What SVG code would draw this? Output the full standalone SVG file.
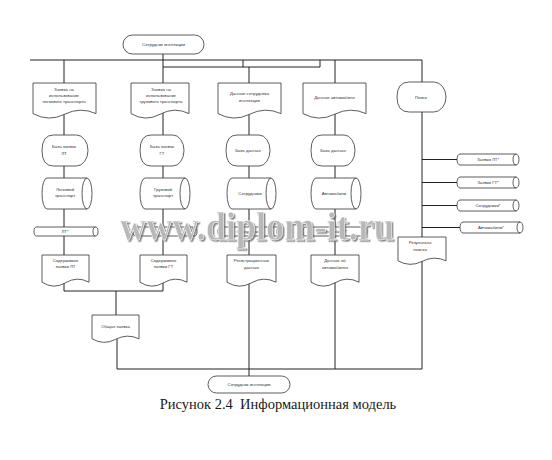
<svg xmlns="http://www.w3.org/2000/svg" width="552" height="460" viewBox="0 0 552 460">
<style>
.ln{fill:none;stroke:#222;stroke-width:1}
.sh{fill:#fff;stroke:#333;stroke-width:0.8}
.in{fill:none;stroke:#333;stroke-width:0.8}
.t{font-family:"Liberation Sans",Arial,sans-serif;font-size:4.3px;fill:#333;text-anchor:middle}
.cap{font-family:"Liberation Serif","Times New Roman",serif;font-size:14.5px;fill:#1a1a1a;text-anchor:middle;white-space:pre}
.wm{font-family:"Liberation Serif","Times New Roman",serif;font-weight:bold;font-size:40px}
</style>
<defs>
<filter id="shadow" x="-5%" y="-20%" width="110%" height="140%">
<feDropShadow dx="1.5" dy="1.5" stdDeviation="0.4" flood-color="#666" flood-opacity="0.8"/>
</filter>
</defs>
<rect width="552" height="460" fill="#fff"/>
<g id="connectors">
<path class="ln" d="M30,60 H422 M163,67 H320 M243,60 V67 M320,60 V67"/>
<path class="ln" d="M64,60 V291 M163,54 V291 M249,67 V376 M335,60 V369 M422,60 V369"/>
<path class="ln" d="M64,291 H163 M116,291 V315 M117,339 V369 H422"/>
<path class="ln" d="M422,159.5 H457 M422,182.5 H457 M422,205.5 H457 M422,227.5 H460"/>
</g>
<g id="top-term"><rect class="sh" x="123" y="35" width="81" height="19" rx="9.5"/><text class="t" x="163.5" y="46">Сотрудник инспекции</text></g>
<g id="doc1"><path class="sh" d="M33,83 H96 V113.6 Q80.25,106.4 64.5,114.3 T33,113.6 Z"/><text class="t" x="64" y="91">Заявка на</text><text class="t" x="64" y="97">использование</text><text class="t" x="64" y="103">легкового транспорта</text></g>
<g id="doc2"><path class="sh" d="M131,83 H189 V113.6 Q174.5,106.4 160,114.3 T131,113.6 Z"/><text class="t" x="161" y="91">Заявка на</text><text class="t" x="161" y="97">использование</text><text class="t" x="161" y="103">грузового транспорта</text></g>
<g id="doc3"><path class="sh" d="M218,83 H281 V113.6 Q265.25,106.4 249.5,114.3 T218,113.6 Z"/><text class="t" x="249.5" y="95">Данные сотрудника</text><text class="t" x="249.5" y="102">инспекции</text></g>
<g id="doc4"><path class="sh" d="M303,83 H366 V113.6 Q350.25,106.4 334.5,114.3 T303,113.6 Z"/><text class="t" x="334.5" y="99">Данные автомобиля</text></g>
<g id="search"><path class="sh" d="M409.25,82 H433.75 A12.25,15 0 0 1 433.75,112 H409.25 Q397,112 397,97 Q397,82 409.25,82 Z"/><text class="t" x="421" y="99">Поиск</text></g>
<g id="disp1"><path class="sh" d="M53.5,135 H76.5 A11.5,15.5 0 0 1 76.5,166 H53.5 Q42,166 42,150.5 Q42,135 53.5,135 Z"/><text class="t" x="64" y="148">База заявок</text><text class="t" x="64" y="155">ЛТ</text></g>
<g id="disp2"><path class="sh" d="M151,135 H173 A11,15.5 0 0 1 173,166 H151 Q140,166 140,150.5 Q140,135 151,135 Z"/><text class="t" x="162" y="148">База заявок</text><text class="t" x="162" y="155">ГТ</text></g>
<g id="disp3"><path class="sh" d="M237,135 H259 A11,15.5 0 0 1 259,166 H237 Q226,166 226,150.5 Q226,135 237,135 Z"/><text class="t" x="248" y="152">База данных</text></g>
<g id="disp4"><path class="sh" d="M322,135 H344 A11,15.5 0 0 1 344,166 H322 Q311,166 311,150.5 Q311,135 322,135 Z"/><text class="t" x="333" y="152">База данных</text></g>
<g id="cyl1"><path class="sh" d="M47,178 H87 A5,15.5 0 0 1 87,209 H47 A5,15.5 0 0 1 47,178 Z"/><path class="in" d="M87,178 A5,15.5 0 0 0 87,209"/><text class="t" x="65" y="191">Легковой</text><text class="t" x="65" y="197">транспорт</text></g>
<g id="cyl2"><path class="sh" d="M145,178 H185 A5,15.5 0 0 1 185,209 H145 A5,15.5 0 0 1 145,178 Z"/><path class="in" d="M185,178 A5,15.5 0 0 0 185,209"/><text class="t" x="163" y="191">Грузовой</text><text class="t" x="163" y="197">транспорт</text></g>
<g id="cyl3"><path class="sh" d="M232,178 H271 A5,15.5 0 0 1 271,209 H232 A5,15.5 0 0 1 232,178 Z"/><path class="in" d="M271,178 A5,15.5 0 0 0 271,209"/><text class="t" x="250" y="195">Сотрудники</text></g>
<g id="cyl4"><path class="sh" d="M316,178 H356 A5,15.5 0 0 1 356,209 H316 A5,15.5 0 0 1 316,178 Z"/><path class="in" d="M356,178 A5,15.5 0 0 0 356,209"/><text class="t" x="334" y="195">Автомобили</text></g>
<g id="tc1"><path class="sh" d="M36.5,227 H95.5 A2.5,4.5 0 0 1 95.5,236 H36.5 A2.5,4.5 0 0 1 36.5,227 Z"/><path class="in" d="M95.5,227 A2.5,4.5 0 0 0 95.5,236"/><text class="t" x="65" y="233">ЛТ*</text></g>
<g id="tc2"><path class="sh" d="M135.5,227 H194.5 A2.5,4.5 0 0 1 194.5,236 H135.5 A2.5,4.5 0 0 1 135.5,227 Z"/><path class="in" d="M194.5,227 A2.5,4.5 0 0 0 194.5,236"/><text class="t" x="164" y="233">ГТ*</text></g>
<g id="tc3"><path class="sh" d="M220.5,227 H279.5 A2.5,4.5 0 0 1 279.5,236 H220.5 A2.5,4.5 0 0 1 220.5,227 Z"/><path class="in" d="M279.5,227 A2.5,4.5 0 0 0 279.5,236"/><text class="t" x="249" y="233">Сотрудники*</text></g>
<g id="tc4"><path class="sh" d="M305.5,227 H364.5 A2.5,4.5 0 0 1 364.5,236 H305.5 A2.5,4.5 0 0 1 305.5,227 Z"/><path class="in" d="M364.5,227 A2.5,4.5 0 0 0 364.5,236"/><text class="t" x="334" y="233">Автомобили*</text></g>
<g id="bd1"><path class="sh" d="M42,255 H89 V282.2 Q77.25,275.8 65.5,282.8 T42,282.2 Z"/><text class="t" x="65.5" y="262">Содержимое</text><text class="t" x="65.5" y="268">заявки ЛТ</text></g>
<g id="bd2"><path class="sh" d="M140,255 H187 V282.2 Q175.25,275.8 163.5,282.8 T140,282.2 Z"/><text class="t" x="163.5" y="262">Содержимое</text><text class="t" x="163.5" y="268">заявки ГТ</text></g>
<g id="bd3"><path class="sh" d="M227,255 H276 V282.2 Q263.75,275.8 251.5,282.8 T227,282.2 Z"/><text class="t" x="251.5" y="262">Регистрационные</text><text class="t" x="251.5" y="269">данные</text></g>
<g id="bd4"><path class="sh" d="M311,255 H359 V282.2 Q347,275.8 335,282.8 T311,282.2 Z"/><text class="t" x="335" y="262">Данные об</text><text class="t" x="335" y="269">автомобилях</text></g>
<g id="general"><path class="sh" d="M92,315 H139 V338.8 Q127.25,333.2 115.5,339.4 T92,338.8 Z"/><text class="t" x="115.5" y="328">Общая заявка</text></g>
<g id="results"><path class="sh" d="M398,237 H446 V260.8 Q434,255.2 422,261.4 T398,260.8 Z"/><text class="t" x="420" y="244">Результаты</text><text class="t" x="420" y="251">поиска</text></g>
<g id="rc1"><path class="sh" d="M460,154 H516 A3,5.5 0 0 1 516,165 H460 A3,5.5 0 0 1 460,154 Z"/><path class="in" d="M516,154 A3,5.5 0 0 0 516,165"/><text class="t" x="488" y="161">Заявки ЛТ*</text></g>
<g id="rc2"><path class="sh" d="M460,177 H516 A3,5.5 0 0 1 516,188 H460 A3,5.5 0 0 1 460,177 Z"/><path class="in" d="M516,177 A3,5.5 0 0 0 516,188"/><text class="t" x="488" y="184">Заявки ГТ*</text></g>
<g id="rc3"><path class="sh" d="M460,200 H516 A3,5.5 0 0 1 516,211 H460 A3,5.5 0 0 1 460,200 Z"/><path class="in" d="M516,200 A3,5.5 0 0 0 516,211"/><text class="t" x="488" y="207">Сотрудники*</text></g>
<g id="rc4"><path class="sh" d="M463,222 H520 A3,5.5 0 0 1 520,233 H463 A3,5.5 0 0 1 463,222 Z"/><path class="in" d="M520,222 A3,5.5 0 0 0 520,233"/><text class="t" x="491" y="229">Автомобили*</text></g>
<g id="bottom-term"><rect class="sh" x="208" y="376" width="82" height="17" rx="8.5"/><text class="t" x="249" y="386">Сотрудник инспекции</text></g>
<g id="watermark">
<text class="wm" x="120" y="240" textLength="274" lengthAdjust="spacingAndGlyphs" fill="#b8b8b8" stroke="#fff" stroke-width="0.5" filter="url(#shadow)">www.diplom-it.ru</text>
</g>
<text class="cap" x="278" y="409" xml:space="preserve">Рисунок 2.4  Информационная модель</text>
</svg>
